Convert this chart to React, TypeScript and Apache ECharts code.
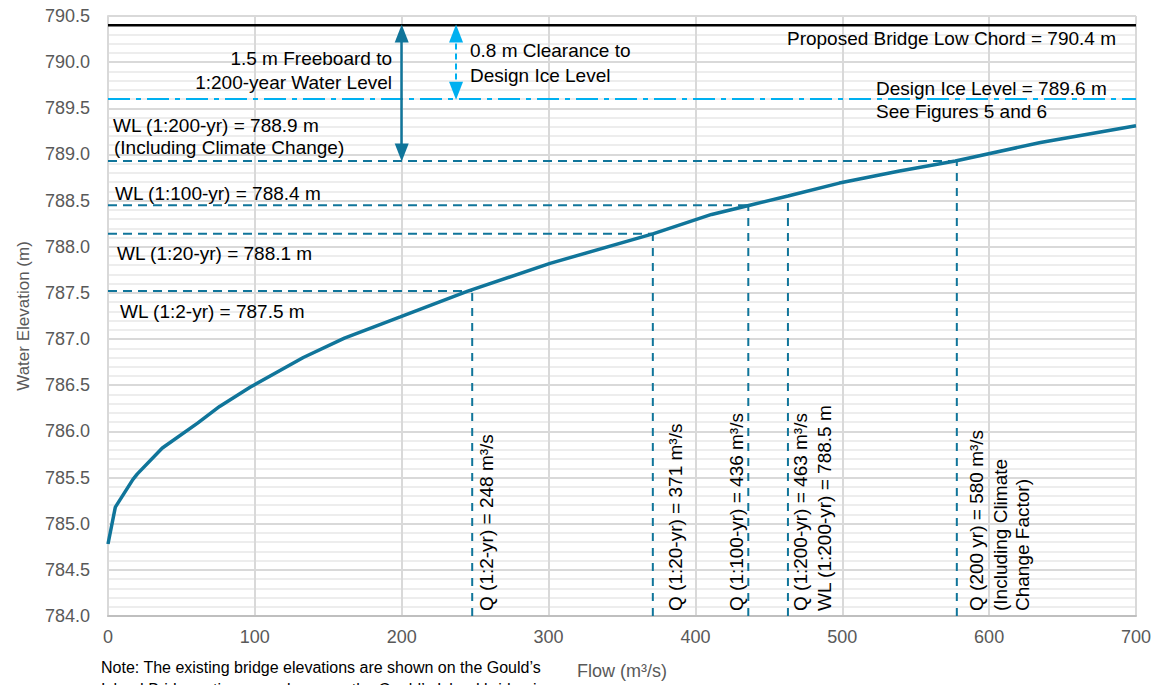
import React, { useEffect, useRef } from "react";
import * as echarts from "echarts";

// Rating curve (Flow m3/s vs Water Elevation m)
const flow = [0, 5, 17, 20, 37, 61, 76, 97, 133, 161, 199, 245, 301, 371, 411, 437, 463, 498, 539, 577, 635, 700];
const elevation = [784.78, 785.18, 785.48, 785.54, 785.82, 786.09, 786.27, 786.48, 786.8, 787.01, 787.24, 787.52, 787.82, 788.14, 788.35, 788.45, 788.55, 788.69, 788.82, 788.93, 789.13, 789.31];

// Design flows and water levels
const designFlow = [248, 371, 436, 463, 578];
const designWL = [787.52, 788.14, 788.45, 788.55, 788.93];
const hasWLLine = [true, true, true, false, true];

const lowChord = 790.4;
const iceLevel = 789.6;
const freeboardArrowX = 200;
const clearanceArrowX = 237;

const yTicks = { min: 784, max: 790.5, interval: 0.5 };
const xTicks = { min: 0, max: 700, interval: 100 };

const TEAL = "#10759A";
const CYAN = "#00B0F0";
const FONT = "'Liberation Sans', Arial, sans-serif";

export default function App() {
  const ref = useRef<HTMLDivElement>(null);
  useEffect(() => {
    if (!ref.current) return;
    const chart = echarts.init(ref.current, null, { renderer: "svg" });
    const series: any[] = [];
    series.push({
      type: "line",
      name: "Rating Curve",
      data: flow.map((q, i) => [q, elevation[i]]),
      symbol: "none",
      lineStyle: { color: TEAL, width: 3.5 },
      z: 5,
    });
    designFlow.forEach((q, i) => {
      series.push({
        type: "line",
        data: [[q, yTicks.min], [q, designWL[i]]],
        symbol: "none",
        lineStyle: { color: TEAL, width: 2, type: [8, 7] },
        z: 3,
      });
      if (hasWLLine[i]) {
        series.push({
          type: "line",
          data: [[0, designWL[i]], [q, designWL[i]]],
          symbol: "none",
          lineStyle: { color: TEAL, width: 2, type: [9, 6] },
          z: 3,
        });
      }
    });
    series.push({
      type: "line",
      data: [[xTicks.min, lowChord], [xTicks.max, lowChord]],
      symbol: "none",
      lineStyle: { color: "#000", width: 2.5 },
      z: 4,
    });
    series.push({
      type: "line",
      data: [[xTicks.min, iceLevel], [xTicks.max, iceLevel]],
      symbol: "none",
      lineStyle: { color: CYAN, width: 2, type: [22, 6, 5, 6] },
      z: 4,
    });
    series.push({
      type: "line",
      data: [],
      markLine: {
        silent: true,
        animation: false,
        label: { show: false },
        symbol: ["triangle", "triangle"],
        symbolSize: [14, 18],
        data: [
          [
            { coord: [freeboardArrowX, lowChord - 0.09], lineStyle: { color: TEAL, width: 2.5, type: "solid" } },
            { coord: [freeboardArrowX, designWL[4] + 0.09] },
          ],
          [
            { coord: [clearanceArrowX, lowChord - 0.09], lineStyle: { color: CYAN, width: 2, type: [6, 4] } },
            { coord: [clearanceArrowX, iceLevel + 0.09] },
          ],
        ],
      },
    });

    const t = (text: string, x: number, y: number, align = "left") => ({
      type: "text",
      x,
      y,
      z: 100,
      style: { text, fill: "#000", font: `19px ${FONT}`, textAlign: align, textVerticalAlign: "middle" },
    });
    const v = (text: string, x: number, y: number) => ({
      type: "text",
      x,
      y,
      z: 100,
      rotation: Math.PI / 2,
      style: { text, fill: "#000", font: `19px ${FONT}`, textAlign: "left", textVerticalAlign: "middle" },
    });

    chart.setOption({
      animation: false,
      grid: { left: 108, right: 18, top: 16, bottom: 68, containLabel: false },
      xAxis: {
        type: "value",
        min: xTicks.min,
        max: xTicks.max,
        interval: xTicks.interval,
        name: "Flow (m³/s)",
        nameLocation: "middle",
        nameGap: 46,
        nameTextStyle: { color: "#595959", fontSize: 18, fontFamily: FONT },
        axisLine: { show: true, lineStyle: { color: "#BFBFBF", width: 2 } },
        axisTick: { show: false },
        axisLabel: { color: "#595959", fontSize: 18, fontFamily: FONT, margin: 12 },
        splitLine: { show: true, lineStyle: { color: "#D9D9D9", width: 2 } },
      },
      yAxis: {
        type: "value",
        min: yTicks.min,
        max: yTicks.max,
        interval: yTicks.interval,
        name: "Water Elevation (m)",
        nameLocation: "middle",
        nameGap: 76,
        nameTextStyle: { color: "#595959", fontSize: 17, fontFamily: FONT },
        axisLine: { show: true, lineStyle: { color: "#D9D9D9", width: 2 } },
        axisTick: { show: false },
        axisLabel: { color: "#595959", fontSize: 18, fontFamily: FONT, margin: 18, formatter: (val: number) => val.toFixed(1) },
        splitLine: { show: true, lineStyle: { color: "#D9D9D9", width: 2 } },
        minorTick: { show: false, splitNumber: 5 },
        minorSplitLine: { show: true, lineStyle: { color: "#EDEDED", width: 2 } },
      },
      series,
      graphic: [
        t("Proposed Bridge Low Chord = 790.4 m", 1116, 38, "right"),
        t("1.5 m Freeboard to", 392, 58, "right"),
        t("1:200-year Water Level", 392, 82, "right"),
        t("0.8 m Clearance to", 470, 50),
        t("Design Ice Level", 470, 75),
        t("Design Ice Level = 789.6 m", 876, 88),
        t("See Figures 5 and 6", 876, 111),
        t("WL (1:200-yr) = 788.9 m", 113, 125),
        t("(Including Climate Change)", 114, 147),
        t("WL (1:100-yr) = 788.4 m", 115, 193),
        t("WL (1:20-yr) = 788.1 m", 117, 253),
        t("WL (1:2-yr) = 787.5 m", 120, 311),
        v("Q (1:2-yr) = 248 m³/s", 486, 611),
        v("Q (1:20-yr) = 371 m³/s", 675, 611),
        v("Q (1:100-yr) = 436 m³/s", 736, 611),
        v("Q (1:200-yr) = 463 m³/s", 800, 611),
        v("WL (1:200-yr) = 788.5 m", 824, 611),
        v("Q (200 yr) = 580 m³/s", 976, 611),
        v("(Including Climate", 1000, 611),
        v("Change Factor)", 1022, 611),
        {
          type: "text",
          x: 101,
          y: 667,
          z: 100,
          style: { text: "Note: The existing bridge elevations are shown on the Gould’s", fill: "#000", font: `16px ${FONT}`, textVerticalAlign: "middle" },
        },
        {
          type: "text",
          x: 101,
          y: 689,
          z: 100,
          style: { text: "Island Bridge rating curve because the Gould’s Island bridge is", fill: "#000", font: `16px ${FONT}`, textVerticalAlign: "middle" },
        },
      ],
    });
    return () => chart.dispose();
  }, []);
  return <div ref={ref} style={{ position: "fixed", left: 0, top: 0, width: 1154, height: 685, background: "#fff" }} />;
}
